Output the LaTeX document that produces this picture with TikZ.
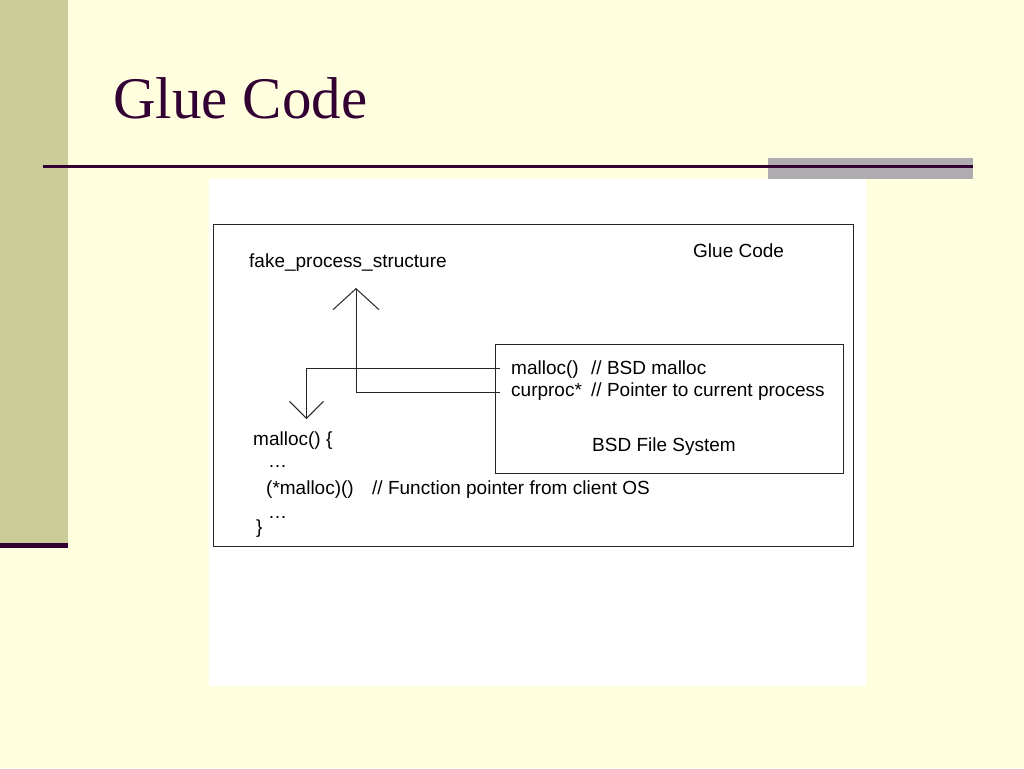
\documentclass[tikz,border=0pt]{standalone}
\usepackage{fontspec}
\setmainfont{Liberation Sans}
\newfontfamily\titlefont{Liberation Serif}
\usetikzlibrary{arrows.meta}
\definecolor{bgyellow}{RGB}{255,255,224}
\definecolor{sidebar}{RGB}{204,204,153}
\definecolor{darkpurple}{RGB}{51,0,51}
\definecolor{graybar}{RGB}{174,172,174}
\tikzset{
  lbl/.style={inner sep=0pt, anchor=base west, font=\fontsize{19}{22}\selectfont, text=black},
  boxline/.style={draw=black!85, line width=1pt},
  conn/.style={draw=black!85, line width=1pt},
}
\begin{document}
\begin{tikzpicture}[x=1pt,y=-1pt]
\useasboundingbox (0,0) rectangle (1024,768);
% background
\fill[bgyellow] (0,0) rectangle (1024,768);
\fill[sidebar] (0,0) rectangle (68,543);
\fill[darkpurple] (0,543) rectangle (68,548);
\fill[graybar] (768,158) rectangle (973,179);
\fill[darkpurple] (43,165.3) rectangle (973,168);
% title
\node[inner sep=0pt, anchor=base west, text=darkpurple, font=\titlefont\fontsize{59}{64}\selectfont] (title) at (113,118) {Glue Code};
% white panel
\fill[white] (209,179) rectangle (866,686);
% outer box
\node[boxline, minimum width=640pt, minimum height=322pt, anchor=north west, inner sep=0pt] (outer) at (213,224) {};
% BSD box
\node[boxline, minimum width=348pt, minimum height=129pt, anchor=north west, inner sep=0pt] (bsd) at (494.5,344) {};
% labels
\node[lbl] (gluelbl) at (693,257) {Glue Code};
\node[lbl] (fake) at (249,267) {fake\_process\_structure};
\node[lbl] (bmalloc) at (511,374) {malloc()};
\node[lbl] (bmallocc) at (591,374) {// BSD malloc};
\node[lbl] (curproc) at (511,396) {curproc*};
\node[lbl] (curprocc) at (591,396) {// Pointer to current process};
\node[lbl] (bsdfs) at (592,451) {BSD File System};
\node[lbl] (mfun) at (253,445) {malloc() \{};
\node[lbl] (dots1) at (268,467) {\dots};
\node[lbl] (fptr) at (266,494) {(*malloc)()};
\node[lbl] (fptrc) at (372,494) {// Function pointer from client OS};
\node[lbl] (dots2) at (268,518) {\dots};
\node[lbl] (brace) at (256,533) {\}};
% connector end points
\coordinate (mallocstart) at (500,368);
\coordinate (mallocbend) at (306.5,368);
\coordinate (mallocend) at (306.5,419);
\coordinate (curstart) at (500,392);
\coordinate (curbend) at (356,392);
\coordinate (curend) at (356,288);
% connectors
\draw[conn, -{Straight Barb[length=17pt,width=34pt,line width=1pt]}] (mallocstart) -- (mallocbend) -- (mallocend);
\draw[conn, -{Straight Barb[length=21pt,width=46pt,line width=1pt]}] (curstart) -- (curbend) -- (curend);
\end{tikzpicture}
\end{document}
